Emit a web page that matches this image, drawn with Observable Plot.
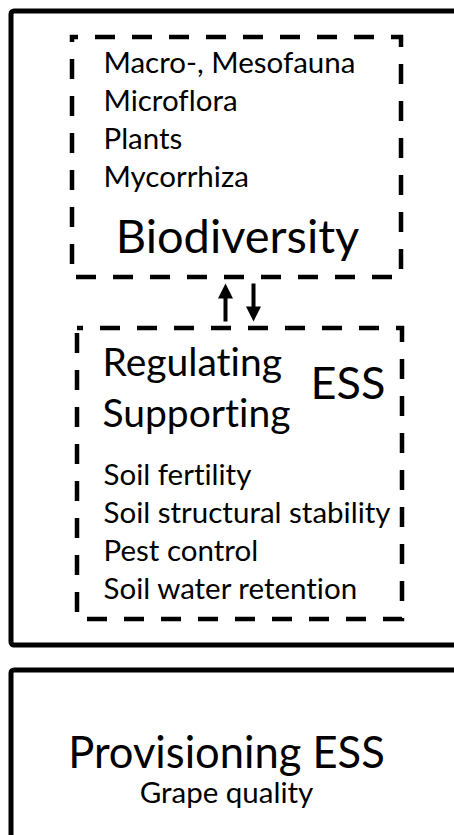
<!DOCTYPE html>
<html><head><meta charset="utf-8">
<script src="https://cdn.jsdelivr.net/npm/d3@7"></script>
<script src="https://cdn.jsdelivr.net/npm/@observablehq/plot@0.6"></script>
<style>
body{margin:0;background:#fff;}
#chart{width:454px;height:835px;overflow:hidden;}
#chart text{font-variant-ligatures:none;}
</style>
</head><body><div id="chart"></div>
<script>
// ---- content ----
const biodiversityItems = ["Macro-, Mesofauna", "Microflora", "Plants", "Mycorrhiza"];
const biodiversityTitle = ["Biodiversity"];
const essTypes = ["Regulating", "Supporting"];
const essLabel = ["ESS"];
const essItems = ["Soil fertility", "Soil structural stability", "Pest control", "Soil water retention"];
const provisioningTitle = ["Provisioning ESS"];
const provisioningItems = ["Grape quality"];
const flows = ["up", "down"]; // ESS -> Biodiversity, Biodiversity -> ESS

// ---- layout ----
const W = 454, H = 835;
const FONT = "Lato, 'Open Sans', sans-serif";
const solidBoxes = [
  {x1: 11, y1: 11, x2: 475, y2: 645},
  {x1: 11, y1: 670, x2: 475, y2: 880}
];
const dashedBoxes = [
  {x1: 72, y1: 37, x2: 401, y2: 277},
  {x1: 77, y1: 328, x2: 402, y2: 619}
];
const arrowX = {up: 225, down: 253};
const arrowTop = 283, arrowBottom = 321, headLen = 15;

const triUp = {draw(ctx, size) { const r = Math.sqrt(size / Math.PI); ctx.moveTo(0, -r); ctx.lineTo(r, r); ctx.lineTo(-r, r); ctx.closePath(); }};
const triDown = {draw(ctx, size) { const r = Math.sqrt(size / Math.PI); ctx.moveTo(0, r); ctx.lineTo(r, -r); ctx.lineTo(-r, -r); ctx.closePath(); }};

const txt = (data, opts) => Plot.text(data, {text: d => d, textAnchor: "start", lineAnchor: "bottom", fontFamily: FONT, fill: "black", ...opts});

const chart = Plot.plot({
  width: W, height: H,
  margin: 0,
  x: {domain: [0, W], range: [0, W], axis: null},
  y: {domain: [0, H], range: [0, H], axis: null},
  marks: [
    Plot.rect(solidBoxes, {x1: "x1", x2: "x2", y1: "y1", y2: "y2", fill: "none", stroke: "black", strokeWidth: 5, rx: 3}),
    Plot.rect(dashedBoxes, {x1: "x1", x2: "x2", y1: "y1", y2: "y2", fill: "none", stroke: "black", strokeWidth: 4.5, strokeDasharray: "20,17", strokeDashoffset: 14}),
    // arrows: shafts
    Plot.link(flows, {
      x1: d => arrowX[d], x2: d => arrowX[d],
      y1: d => d === "up" ? arrowBottom : arrowTop,
      y2: d => d === "up" ? arrowTop + headLen - 1 : arrowBottom - headLen + 1,
      stroke: "black", strokeWidth: 4
    }),
    // arrows: heads
    Plot.dot(flows.filter(d => d === "up"), {x: d => arrowX[d], y: () => arrowTop + headLen / 2, symbol: triUp, r: 7.5, fill: "black", stroke: "none"}),
    Plot.dot(flows.filter(d => d === "down"), {x: d => arrowX[d], y: () => arrowBottom - headLen / 2, symbol: triDown, r: 7.5, fill: "black", stroke: "none"}),
    // biodiversity box
    txt(biodiversityItems, {x: () => 103, y: (d, i) => 72 + i * 38, fontSize: 29.5}),
    txt(biodiversityTitle, {x: () => 237, y: () => 252, textAnchor: "middle", fontSize: 47}),
    // ESS box
    txt(essTypes, {x: () => 102, y: (d, i) => 375 + i * 51, fontSize: 39}),
    txt(essLabel, {x: () => 310, y: () => 398, fontSize: 45}),
    txt(essItems, {x: () => 103, y: (d, i) => 484 + i * 38, fontSize: 29.5}),
    // provisioning
    txt(provisioningTitle, {x: () => 226, y: () => 767, textAnchor: "middle", fontSize: 43.5}),
    txt(provisioningItems, {x: () => 226, y: () => 802, textAnchor: "middle", fontSize: 29.5})
  ]
});
document.getElementById("chart").appendChild(chart);
</script>
</body></html>
